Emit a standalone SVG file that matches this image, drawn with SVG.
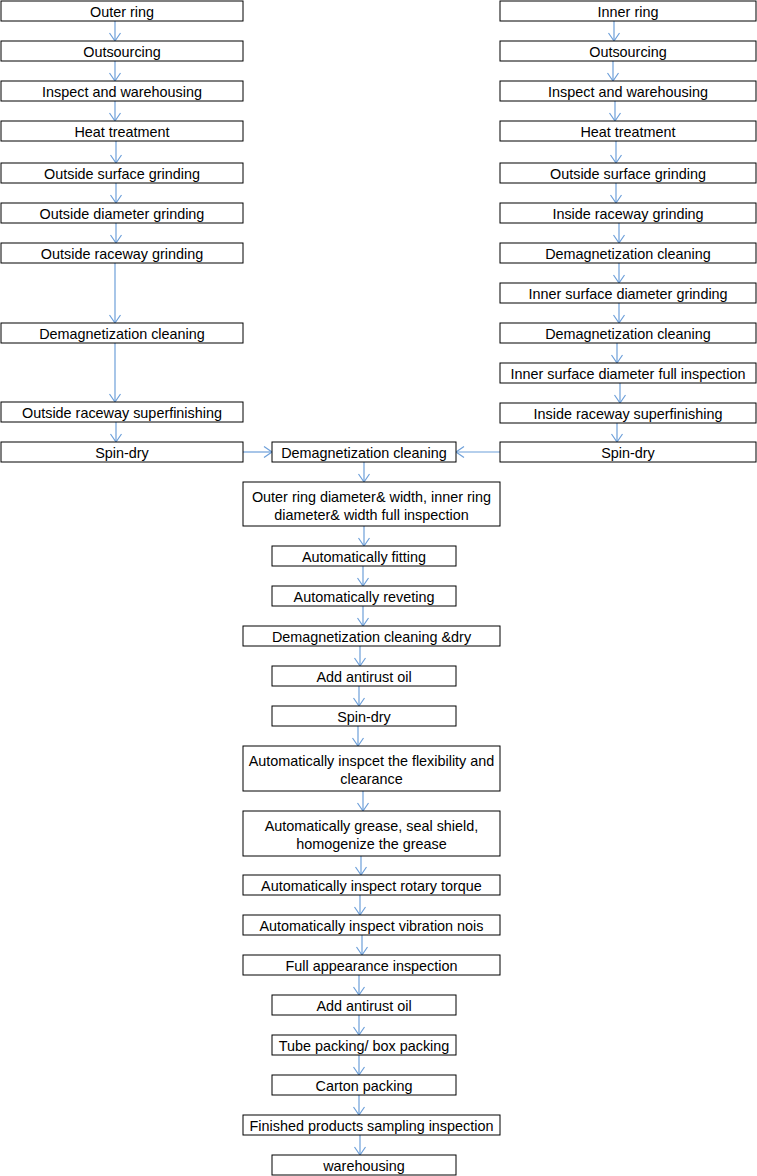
<svg xmlns="http://www.w3.org/2000/svg" width="757" height="1176" viewBox="0 0 757 1176">
<defs>
<marker id="ah" markerUnits="userSpaceOnUse" markerWidth="12" markerHeight="14" viewBox="-10 -7 12 14" refX="0" refY="0" orient="auto">
<path d="M-8,-5.5 L0,0 L-8,5.5" fill="none" stroke="#6d9fd9" stroke-width="1.2"/>
</marker>
<style>
rect{fill:#fff;stroke:#000;stroke-width:1}
text{font-family:"Liberation Sans",Arial,sans-serif;font-size:14.4px;fill:#000;text-anchor:middle}
#connectors line{stroke:#6d9fd9;stroke-width:1.2;marker-end:url(#ah)}
</style>
</defs>
<rect x="0" y="0" width="757" height="1176" style="fill:#fff;stroke:none"/>
<g id="connectors">
<line x1="115" y1="21" x2="115" y2="41"/>
<line x1="115" y1="61" x2="115" y2="81"/>
<line x1="115" y1="101" x2="115" y2="121"/>
<line x1="116" y1="141" x2="116" y2="163"/>
<line x1="116" y1="183" x2="116" y2="203"/>
<line x1="116" y1="223" x2="116" y2="243"/>
<line x1="115" y1="263" x2="115" y2="323"/>
<line x1="115" y1="343" x2="115" y2="402"/>
<line x1="116" y1="422" x2="116" y2="442"/>
<line x1="614" y1="21" x2="614" y2="41"/>
<line x1="613" y1="61" x2="613" y2="81"/>
<line x1="615" y1="101" x2="615" y2="121"/>
<line x1="616" y1="141" x2="616" y2="163"/>
<line x1="616" y1="183" x2="616" y2="203"/>
<line x1="619" y1="223" x2="619" y2="243"/>
<line x1="619" y1="263" x2="619" y2="283"/>
<line x1="619" y1="303" x2="619" y2="323"/>
<line x1="617" y1="343" x2="617" y2="363"/>
<line x1="620" y1="383" x2="620" y2="403"/>
<line x1="617" y1="423" x2="617" y2="442"/>
<line x1="243" y1="452" x2="272" y2="452"/>
<line x1="500" y1="452" x2="456" y2="452"/>
<line x1="364" y1="462" x2="364" y2="482"/>
<line x1="364" y1="526" x2="364" y2="546"/>
<line x1="363" y1="566" x2="363" y2="586"/>
<line x1="363" y1="606" x2="363" y2="626"/>
<line x1="360" y1="646" x2="360" y2="666"/>
<line x1="359" y1="686" x2="359" y2="706"/>
<line x1="358" y1="726" x2="358" y2="746"/>
<line x1="363" y1="791" x2="363" y2="811"/>
<line x1="361" y1="856" x2="361" y2="875"/>
<line x1="360" y1="895" x2="360" y2="915"/>
<line x1="362" y1="935" x2="362" y2="955"/>
<line x1="359" y1="975" x2="359" y2="995"/>
<line x1="359" y1="1015" x2="359" y2="1035"/>
<line x1="359" y1="1055" x2="359" y2="1075"/>
<line x1="359" y1="1095" x2="359" y2="1115"/>
<line x1="360" y1="1135" x2="360" y2="1155"/>
</g>
<g id="L1"><rect x="1" y="1" width="242" height="20"/><text x="122" y="16.5">Outer ring</text></g>
<g id="L2"><rect x="1" y="41" width="242" height="20"/><text x="122" y="56.5">Outsourcing</text></g>
<g id="L3"><rect x="1" y="81" width="242" height="20"/><text x="122" y="96.5">Inspect and warehousing</text></g>
<g id="L4"><rect x="1" y="121" width="242" height="20"/><text x="122" y="136.5">Heat treatment</text></g>
<g id="L5"><rect x="1" y="163" width="242" height="20"/><text x="122" y="178.5">Outside surface grinding</text></g>
<g id="L6"><rect x="1" y="203" width="242" height="20"/><text x="122" y="218.5">Outside diameter grinding</text></g>
<g id="L7"><rect x="1" y="243" width="242" height="20"/><text x="122" y="258.5">Outside raceway grinding</text></g>
<g id="L8"><rect x="1" y="323" width="242" height="20"/><text x="122" y="338.5">Demagnetization cleaning</text></g>
<g id="L9"><rect x="1" y="402" width="242" height="20"/><text x="122" y="417.5">Outside raceway superfinishing</text></g>
<g id="L10"><rect x="1" y="442" width="242" height="20"/><text x="122" y="457.5">Spin-dry</text></g>
<g id="R1"><rect x="500" y="1" width="256" height="20"/><text x="628" y="16.5">Inner ring</text></g>
<g id="R2"><rect x="500" y="41" width="256" height="20"/><text x="628" y="56.5">Outsourcing</text></g>
<g id="R3"><rect x="500" y="81" width="256" height="20"/><text x="628" y="96.5">Inspect and warehousing</text></g>
<g id="R4"><rect x="500" y="121" width="256" height="20"/><text x="628" y="136.5">Heat treatment</text></g>
<g id="R5"><rect x="500" y="163" width="256" height="20"/><text x="628" y="178.5">Outside surface grinding</text></g>
<g id="R6"><rect x="500" y="203" width="256" height="20"/><text x="628" y="218.5">Inside raceway grinding</text></g>
<g id="R7"><rect x="500" y="243" width="256" height="20"/><text x="628" y="258.5">Demagnetization cleaning</text></g>
<g id="R8"><rect x="500" y="283" width="256" height="20"/><text x="628" y="298.5">Inner surface diameter grinding</text></g>
<g id="R9"><rect x="500" y="323" width="256" height="20"/><text x="628" y="338.5">Demagnetization cleaning</text></g>
<g id="R10"><rect x="500" y="363" width="256" height="20"/><text x="628" y="378.5">Inner surface diameter full inspection</text></g>
<g id="R11"><rect x="500" y="403" width="256" height="20"/><text x="628" y="418.5">Inside raceway superfinishing</text></g>
<g id="R12"><rect x="500" y="442" width="256" height="20"/><text x="628" y="457.5">Spin-dry</text></g>
<g id="C1"><rect x="272" y="442" width="184" height="20"/><text x="364" y="457.5">Demagnetization cleaning</text></g>
<g id="C2"><rect x="243" y="482" width="257" height="44"/><text x="371.5" y="501.5">Outer ring diameter&amp; width, inner ring</text><text x="371.5" y="519.5">diameter&amp; width full inspection</text></g>
<g id="C3"><rect x="272" y="546" width="184" height="20"/><text x="364" y="561.5">Automatically fitting</text></g>
<g id="C4"><rect x="272" y="586" width="184" height="20"/><text x="364" y="601.5">Automatically reveting</text></g>
<g id="C5"><rect x="243" y="626" width="257" height="20"/><text x="371.5" y="641.5">Demagnetization cleaning &amp;dry</text></g>
<g id="C6"><rect x="272" y="666" width="184" height="20"/><text x="364" y="681.5">Add antirust oil</text></g>
<g id="C7"><rect x="272" y="706" width="184" height="20"/><text x="364" y="721.5">Spin-dry</text></g>
<g id="C8"><rect x="243" y="746" width="257" height="45"/><text x="371.5" y="765.5">Automatically inspcet the flexibility and</text><text x="371.5" y="784">clearance</text></g>
<g id="C9"><rect x="243" y="811" width="257" height="45"/><text x="371.5" y="830.5">Automatically grease, seal shield,</text><text x="371.5" y="849">homogenize the grease</text></g>
<g id="C10"><rect x="243" y="875" width="257" height="20"/><text x="371.5" y="890.5">Automatically inspect rotary torque</text></g>
<g id="C11"><rect x="243" y="915" width="257" height="20"/><text x="371.5" y="930.5">Automatically inspect vibration nois</text></g>
<g id="C12"><rect x="243" y="955" width="257" height="20"/><text x="371.5" y="970.5">Full appearance inspection</text></g>
<g id="C13"><rect x="272" y="995" width="184" height="20"/><text x="364" y="1010.5">Add antirust oil</text></g>
<g id="C14"><rect x="272" y="1035" width="184" height="20"/><text x="364" y="1050.5">Tube packing/ box packing</text></g>
<g id="C15"><rect x="272" y="1075" width="184" height="20"/><text x="364" y="1090.5">Carton packing</text></g>
<g id="C16"><rect x="243" y="1115" width="257" height="20"/><text x="371.5" y="1130.5">Finished products sampling inspection</text></g>
<g id="C17"><rect x="272" y="1155" width="184" height="20"/><text x="364" y="1170.5">warehousing</text></g>
</svg>
